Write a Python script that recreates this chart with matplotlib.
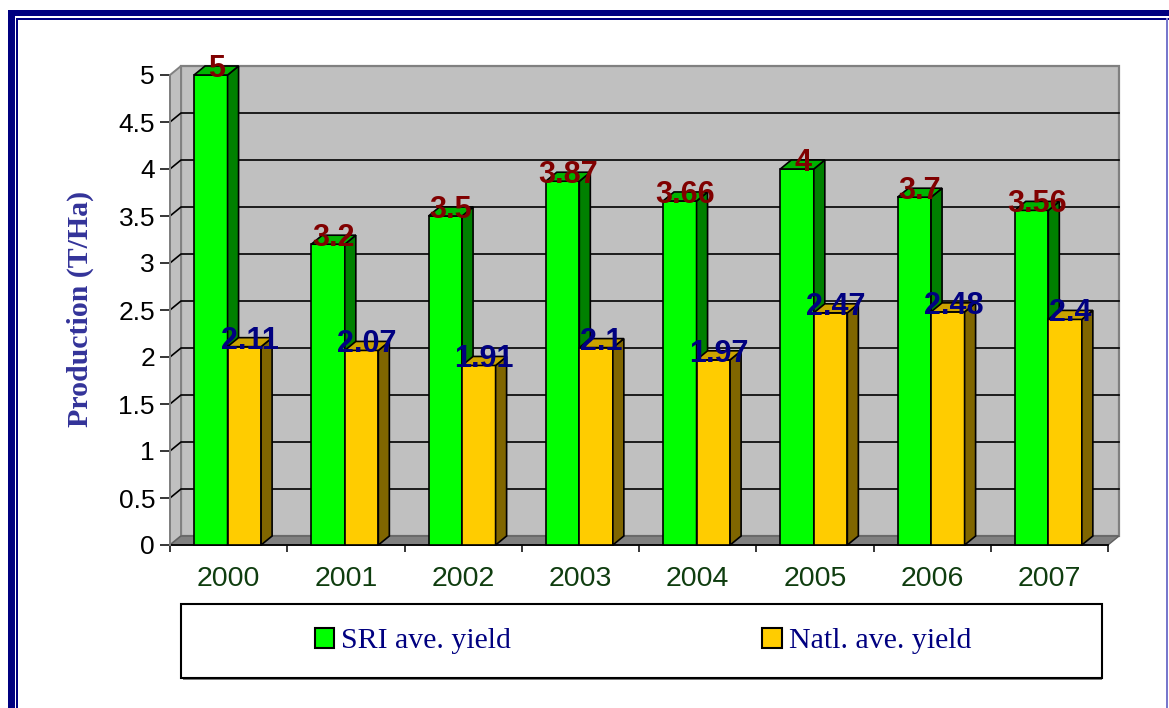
import matplotlib
matplotlib.use("Agg")
import matplotlib.pyplot as plt
from matplotlib.patches import Polygon, Rectangle
from matplotlib.lines import Line2D
from matplotlib.transforms import offset_copy

# ---- data ----
years = ["2000", "2001", "2002", "2003", "2004", "2005", "2006", "2007"]
sri_yield = [5, 3.2, 3.5, 3.87, 3.66, 4, 3.7, 3.56]
natl_yield = [2.11, 2.07, 1.91, 2.1, 1.97, 2.47, 2.48, 2.4]
sri_labels = ["5", "3.2", "3.5", "3.87", "3.66", "4", "3.7", "3.56"]
natl_labels = ["2.11", "2.07", "1.91", "2.1", "1.97", "2.47", "2.48", "2.4"]
series_names = ["SRI ave. yield", "Natl. ave. yield"]
y_ticks = [0, 0.5, 1, 1.5, 2, 2.5, 3, 3.5, 4, 4.5, 5]
y_tick_labels = ["0", "0.5", "1", "1.5", "2", "2.5", "3", "3.5", "4", "4.5", "5"]

W, H = 1169, 708
DPI = 100
fig = plt.figure(figsize=(W / DPI, H / DPI), dpi=DPI)
fig.patch.set_facecolor("white")

def fx(px):
    return px / W

def fy(py):
    return 1 - py / H

# axes: front plane
L, R, T, B = 170, 1108, 75, 545
ax = fig.add_axes([fx(L), fy(B), fx(R - L), (B - T) / H])
ax.set_xlim(0, len(years))
ax.set_ylim(0, 5)
ax.patch.set_visible(False)
for s in ax.spines.values():
    s.set_visible(False)

# depth in data units (from pixel depth through the axes scale)
DEP_X, DEP_Y = 11, 9
p0 = ax.transData.transform((0, 0))
p1 = ax.transData.transform((1, 1))
dx = DEP_X / (p1[0] - p0[0])
dy = DEP_Y / (p1[1] - p0[1])
n = len(years)
ymax = 5

# walls
ax.add_patch(Rectangle((dx, dy), n, ymax, facecolor="#C0C0C0", edgecolor="#808080",
                       lw=1.6, zorder=1, clip_on=False))
ax.add_patch(Polygon([(0, 0), (0, ymax), (dx, ymax + dy), (dx, dy)], closed=True,
                     facecolor="#C0C0C0", edgecolor="#808080", lw=1.4, zorder=2, clip_on=False))
ax.add_patch(Polygon([(0, 0), (n, 0), (n + dx, dy), (dx, dy)], closed=True,
                     facecolor="#808080", edgecolor="#606060", lw=1.0, zorder=2, clip_on=False))
# gridlines
for v in y_ticks[1:-1]:
    ax.add_line(Line2D([0, dx, n + dx], [v, v + dy, v + dy], color="black", lw=1.2,
                       zorder=3, clip_on=False))
# axis lines
ax.add_line(Line2D([0, n], [0, 0], color="black", lw=1.3, zorder=4, clip_on=False))
ax.add_line(Line2D([0, 0], [0, ymax], color="#808080", lw=1.4, zorder=4, clip_on=False))

# bars
x_off_g = 0.205
bw = 0.286
faces = [
    (sri_yield, x_off_g, "#00FF00", "#008000", "#00B400"),
    (natl_yield, x_off_g + bw, "#FFCC00", "#806600", "#CCA300"),
]
for i in range(n):
    for k, (vals, off, cf, cs, ct) in enumerate(faces):
        z = 10 + 2 * i + k
        x0 = i + off
        v = vals[i]
        ax.bar(x0, v, width=bw, align="edge", color=cf, edgecolor="black", lw=1.2,
               zorder=z, clip_on=False)
        ax.add_patch(Polygon([(x0 + bw, 0), (x0 + bw + dx, dy), (x0 + bw + dx, v + dy), (x0 + bw, v)],
                             closed=True, facecolor=cs, edgecolor="black", lw=1.2, zorder=z, clip_on=False))
        ax.add_patch(Polygon([(x0, v), (x0 + bw, v), (x0 + bw + dx, v + dy), (x0 + dx, v + dy)],
                             closed=True, facecolor=ct, edgecolor="black", lw=1.2, zorder=z, clip_on=False))

# data labels
lab_tr = offset_copy(ax.transData, fig=fig, x=DEP_X / 2, y=-2, units="dots")
for i in range(n):
    ax.text(i + x_off_g + bw / 2, sri_yield[i], sri_labels[i], transform=lab_tr,
            ha="center", va="baseline", fontsize=22, fontweight="bold",
            family="Liberation Sans", color="#800000", zorder=100, clip_on=False)
    ax.text(i + x_off_g + bw * 1.5, natl_yield[i], natl_labels[i], transform=lab_tr,
            ha="center", va="baseline", fontsize=22, fontweight="bold",
            family="Liberation Sans", color="#000080", zorder=100, clip_on=False)

# ticks
ax.set_yticks(y_ticks)
ax.set_yticklabels(y_tick_labels, fontsize=19, family="Liberation Sans", color="black")
ax.tick_params(axis="y", direction="out", length=7.2, width=1.1, pad=3.6, color="black")
ax.set_xticks(range(n + 1))
ax.set_xticklabels([""] * (n + 1))
ax.set_xticks([i + 0.5 for i in range(n)], minor=True)
ax.set_xticklabels(years, minor=True, fontsize=20.5, family="Liberation Sans", color="#0F3D0F")
ax.tick_params(axis="x", which="major", direction="out", length=5.2, width=1.1, color="black")
ax.tick_params(axis="x", which="minor", length=0, pad=15)

# y-axis title
fig.text(fx(80), fy(309), "Production (T/Ha)", rotation=90, ha="center", va="center",
         fontsize=21.5, fontweight="bold", family="Liberation Serif", color="#333399")

# legend box
fig.add_artist(Rectangle((fx(183), fy(680)), fx(1102 - 183), (680 - 606) / H,
                         transform=fig.transFigure, facecolor="#808080", edgecolor="none", zorder=1))
fig.add_artist(Rectangle((fx(181), fy(678)), fx(1102 - 181), (678 - 604) / H,
                         transform=fig.transFigure, facecolor="white", edgecolor="black", lw=1.5, zorder=2))
handles = [Rectangle((0, 0), 1, 1, facecolor="#00FF00", edgecolor="black", lw=1.5),
           Rectangle((0, 0), 1, 1, facecolor="#FFCC00", edgecolor="black", lw=1.5)]
leg = fig.legend(handles, series_names, loc="center", bbox_to_anchor=(fx(643), fy(641)),
                 ncol=2, frameon=False, handlelength=0.65, handleheight=0.65,
                 handletextpad=0.25, columnspacing=8.4, borderaxespad=0,
                 prop={"family": "Liberation Serif", "size": 21.5})
for t in leg.get_texts():
    t.set_color("#000080")
leg.set_zorder(3)

# outer border
navy = "#000080"
fig.add_artist(Rectangle((fx(8), fy(16)), fx(W - 8), 6 / H, transform=fig.transFigure,
                         facecolor=navy, edgecolor="none"))
fig.add_artist(Rectangle((fx(8), 0), fx(7), fy(10), transform=fig.transFigure,
                         facecolor=navy, edgecolor="none"))
fig.add_artist(Rectangle((fx(16), fy(20)), fx(W - 16), 2 / H, transform=fig.transFigure,
                         facecolor=navy, edgecolor="none"))
fig.add_artist(Rectangle((fx(16), 0), fx(2), fy(18), transform=fig.transFigure,
                         facecolor=navy, edgecolor="none"))
fig.add_artist(Rectangle((fx(1166), 0), fx(1.6), fy(18), transform=fig.transFigure,
                         facecolor="#7777CC", edgecolor="none"))

fig.savefig("out.png", dpi=DPI)
